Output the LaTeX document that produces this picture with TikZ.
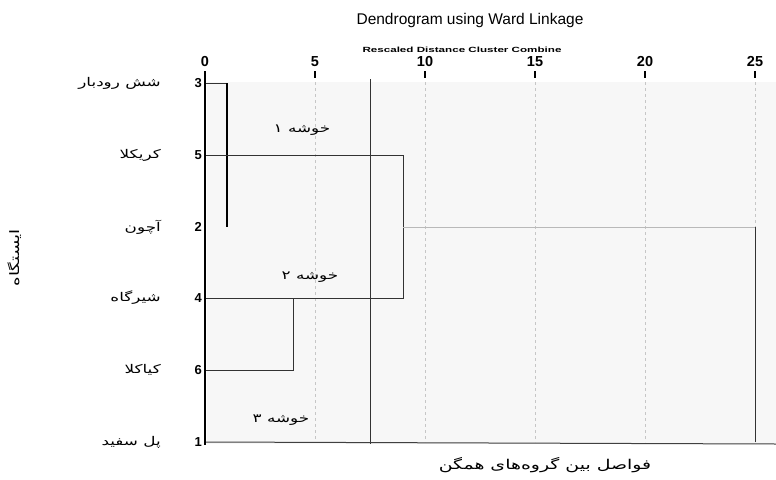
\documentclass[tikz,border=0pt]{standalone}
\usepackage{fontspec}
\setmainfont{Liberation Sans}
\newfontfamily\arabicfont[Script=Arabic]{DejaVu Sans}
\TeXXeTstate=1
\newcommand{\fa}[1]{\scalebox{1.4}[1]{\arabicfont\beginR #1\endR}}

\tikzset{
  leaf/.style={font=\bfseries\fontsize{13}{14}\selectfont, anchor=east, inner sep=1pt},
  station/.style={font=\fontsize{12}{14}\selectfont, anchor=east, inner sep=1pt},
  cluster/.style={font=\fontsize{12}{14}\selectfont, inner sep=1pt},
  tickval/.style={font=\bfseries\fontsize{14.5}{16}\selectfont, inner sep=1pt},
  link/.style={black!80, line width=0.9pt},
  gridline/.style={gray!45, dashed, line width=0.5pt}
}

\begin{document}
\begin{tikzpicture}[x=1pt,y=-1pt]
  \useasboundingbox (0,0) rectangle (776,479);

  % Plot area
  \fill[gray!6] (207,82) rectangle (776,444);
  \foreach \g in {315,425,535,645,755}
    \draw[gridline] (\g,82) -- (\g,442);

  % Define nodes
  \node[font=\fontsize{15.5}{18}\selectfont]          (title) at (470,20) {Dendrogram using Ward Linkage};
  \node[font=\bfseries\fontsize{7.5}{8}\selectfont]   (scale) at (462,50) {\scalebox{1.55}[1]{Rescaled Distance Cluster Combine}};
  \foreach \v [count=\i from 0] in {0,5,10,15,20,25} {
    \node[tickval] (t\v) at ({205+110*\i},62) {\v};
    \draw[line width=1.3pt] ({205+110*\i},71) -- ({205+110*\i},78);
  }
  \foreach \n/\y/\name in {3/83/{شش رودبار}, 5/155/{کریکلا}, 2/227/{آچون}, 4/298/{شیرگاه}, 6/370/{کیاکلا}, 1/442/{پل سفید}} {
    \node[leaf]    (n\n) at (203,\y) {\n};
    \node[station] (s\n) at (162,\y) {\fa{\name}};
    \coordinate    (l\n) at (205,\y);
  }
  \node[cluster] (c1) at (302,130) {\fa{خوشه ۱}};
  \node[cluster] (c2) at (310,277) {\fa{خوشه ۲}};
  \node[cluster] (c3) at (281,420) {\fa{خوشه ۳}};
  \node[font=\fontsize{13}{15}\selectfont, rotate=90] (ylab) at (15,258) {\fa{ایستگاه}};
  \node[font=\fontsize{13.5}{16}\selectfont]        (xlab) at (545,465) {\fa{فواصل بین گروه‌های همگن}};

  % Joins
  \coordinate (a)   at (227,83);
  \coordinate (a-e) at (227,227);
  \coordinate (b)   at (403,155);
  \coordinate (b-e) at (403,298);
  \coordinate (c)   at (293,298);
  \coordinate (c-e) at (293,370);
  \coordinate (d)   at (403,227);
  \coordinate (d-e) at (755,227);
  \coordinate (top) at (755,442);
  \coordinate (cut) at (370,79);
  \coordinate (cut-e) at (370,444);
  \coordinate (axis) at (205,76);
  \coordinate (axis-e) at (205,445);
  \coordinate (base) at (776,444);

  % Connect the nodes
  \draw[link] (l3) -- (a);
  \draw[line width=2.2pt] (a) -- (a-e);
  \draw[link] (l5) -- (b) -- (b-e) -- (l4);
  \draw[link] (c) -- (c-e) -- (l6);
  \draw[gray!55, line width=0.9pt] (d) -- (d-e);
  \draw[link] (d-e) -- (top);
  \draw[link] (cut) -- (cut-e);
  \draw[black!75, line width=1pt] (l1) -- (base);
  \draw[line width=2.2pt] (axis) -- (axis-e);

\end{tikzpicture}
\end{document}
